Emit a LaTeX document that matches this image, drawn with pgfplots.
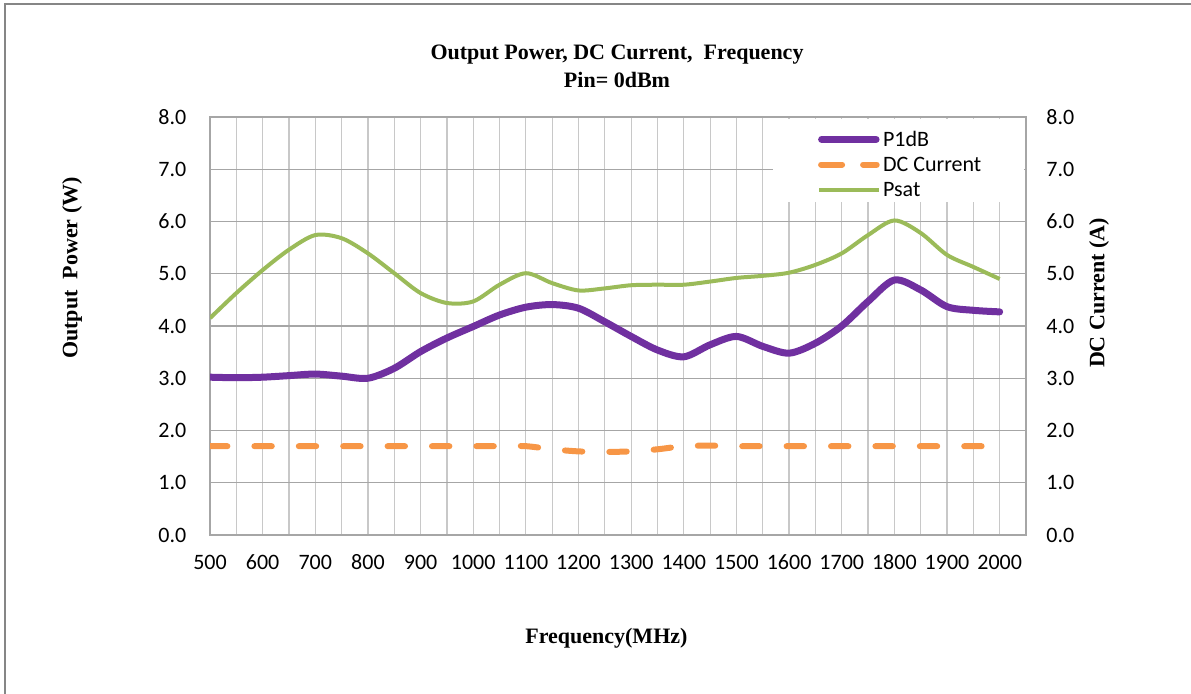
\documentclass[border=0pt]{standalone}
\usepackage{pgfplots}
\pgfplotsset{compat=1.18}
\usepackage{pgfplotstable}
\usepackage{fontspec}
\setmainfont{Carlito}
\newfontfamily\tnr{Liberation Serif}
\definecolor{cP}{HTML}{7030A0}
\definecolor{cD}{HTML}{F79646}
\definecolor{cS}{HTML}{9BBB59}
\definecolor{hgrid}{HTML}{A6A6A6}
\definecolor{vgrid}{HTML}{C8C8C8}
\definecolor{framec}{HTML}{868686}

\pgfplotsset{
  legP/.style={legend image code/.code={\path[draw=none,fill=none] (0pt,-2pt) rectangle (30.8pt,2pt); \draw[##1] (1.75pt,0pt) -- (29pt,0pt);}},
  legD/.style={legend image code/.code={\path[draw=none,fill=none] (0pt,-2pt) rectangle (30.8pt,2pt); \draw[##1, dash pattern=on 10.5pt off 10.5pt] (1.5pt,0pt) -- (29.3pt,0pt);}},
  legS/.style={legend image code/.code={\path[draw=none,fill=none] (0pt,-2pt) rectangle (30.8pt,2pt); \draw[##1] (0.5pt,0pt) -- (30.3pt,0pt);}},
}

\pgfplotstableread{
f p1db dc psat
500 3.02 1.70 4.15
550 3.01 1.70 4.63
600 3.02 1.70 5.07
650 3.05 1.70 5.46
700 3.08 1.70 5.74
750 3.04 1.70 5.68
800 3.00 1.70 5.39
850 3.19 1.70 5.01
900 3.51 1.70 4.63
950 3.77 1.70 4.44
1000 3.99 1.70 4.47
1050 4.21 1.70 4.79
1100 4.36 1.70 5.01
1150 4.41 1.64 4.82
1200 4.34 1.60 4.68
1250 4.08 1.59 4.72
1300 3.80 1.60 4.78
1350 3.54 1.64 4.79
1400 3.41 1.70 4.79
1450 3.64 1.71 4.85
1500 3.80 1.70 4.92
1550 3.61 1.70 4.96
1600 3.48 1.70 5.02
1650 3.67 1.70 5.17
1700 4.00 1.70 5.39
1750 4.47 1.70 5.74
1800 4.88 1.70 6.02
1850 4.69 1.70 5.78
1900 4.37 1.70 5.36
1950 4.30 1.70 5.13
2000 4.27 1.70 4.90
}\datatable

\begin{document}
\begin{tikzpicture}[x=1pt,y=1pt]
\useasboundingbox (0,0) rectangle (595.5,347);
\draw[framec, line width=1pt] (2.5,0) -- (2.5,345) -- (595.5,345);
\begin{axis}[
  at={(105pt,79.5pt)}, anchor=south west,
  scale only axis, width=408pt, height=209pt,
  xmin=500, xmax=2050, ymin=0, ymax=8,
  xtick={500,600,...,2000}, minor xtick={550,600,...,2000},
  ytick={0,1,...,8},
  xmajorgrids=false, xminorgrids=true, ymajorgrids=true,
  major grid style={hgrid, line width=0.6pt},
  minor grid style={vgrid, line width=0.6pt},
  major tick length=0pt, minor tick length=0pt,
  axis line style={hgrid, line width=0.7pt},
  tick label style={font=\fontsize{11}{13}\selectfont},
  /pgf/number format/assume math mode=true,
  xticklabel style={/pgf/number format/1000 sep={}, text height=7.5pt, text depth=0pt, yshift=-6.3pt},
  yticklabel style={/pgf/number format/.cd, fixed, fixed zerofill, precision=1, /tikz/.cd, xshift=-8.3pt},
  legend style={at={(0.7435,0.964)}, anchor=north west, draw=none, fill=none,
    inner sep=0pt, font=\fontsize{11}{13}\selectfont,
    nodes={inner sep=0pt, text height=7pt, text depth=0pt},
    row sep=5.6pt,
    /tikz/every odd column/.append style={column sep=1.2pt}},
  legend cell align=left,
]
\addplot[cP, line width=3.5pt, smooth, line cap=round, legP]
  table[x=f, y=p1db]{\datatable};
\addplot[cD, line width=3pt, smooth, line cap=round, dash pattern=on 8.7pt off 13.5pt, legD]
  table[x=f, y=dc]{\datatable};
\addplot[cS, line width=2pt, smooth, legS]
  table[x=f, y=psat]{\datatable};
\fill[white] (rel axis cs:0.690,0.7967) rectangle (rel axis cs:0.997,0.9952);
\legend{P1dB, DC Current, Psat}
\end{axis}
\begin{axis}[
  at={(105pt,79.5pt)}, anchor=south west,
  scale only axis, width=408pt, height=209pt,
  xmin=500, xmax=2050, ymin=0, ymax=8,
  axis x line=none, axis y line*=right,
  y axis line style={draw=none},
  ytick={0,1,...,8},
  major tick length=0pt,
  tick label style={font=\fontsize{11}{13}\selectfont},
  /pgf/number format/assume math mode=true,
  yticklabel style={/pgf/number format/.cd, fixed, fixed zerofill, precision=1, /tikz/.cd, xshift=6.7pt},
]
\end{axis}
\node[font=\tnr\bfseries\fontsize{11}{13}\selectfont] at (308.5,319.5) {Output Power, DC Current,\ \ Frequency};
\node[font=\tnr\bfseries\fontsize{11}{13}\selectfont] at (308.5,307) {Pin= 0dBm};
\node[font=\tnr\bfseries\fontsize{11}{13}\selectfont] at (303.2,28) {Frequency(MHz)};
\node[font=\tnr\bfseries\fontsize{11}{13}\selectfont, rotate=90] at (36,213) {Output\ \ Power (W)};
\node[font=\tnr\bfseries\fontsize{11}{13}\selectfont, rotate=90] at (549.5,200.5) {DC Current (A)};
\end{tikzpicture}
\end{document}
